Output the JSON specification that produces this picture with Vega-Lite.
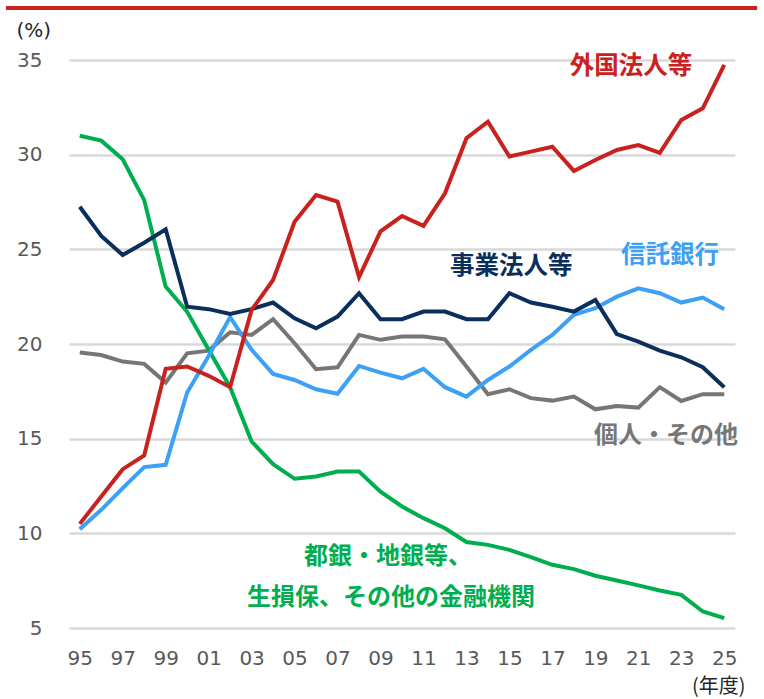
{
  "$schema": "https://vega.github.io/schema/vega-lite/v6.json",
  "width": 666,
  "height": 568,
  "autosize": {"type": "none"},
  "padding": {"left": 69, "top": 60, "right": 29, "bottom": 71},
  "background": "white",
  "config": {"view": {"stroke": null}, "font": "DejaVu Sans"},
  "data": {"values": [
    {"year":1995,"個人・その他":19.55,"金融機関":31.0,"信託銀行":10.22,"事業法人等":27.25,"外国法人等":10.5},
    {"year":1996,"個人・その他":19.42,"金融機関":30.74,"信託銀行":11.24,"事業法人等":25.71,"外国法人等":11.94},
    {"year":1997,"個人・その他":19.07,"金融機関":29.76,"信託銀行":12.39,"事業法人等":24.7,"外国法人等":13.39},
    {"year":1998,"個人・その他":18.95,"金融機関":27.6,"信託銀行":13.5,"事業法人等":25.35,"外国法人等":14.11},
    {"year":1999,"個人・その他":17.96,"金融機関":23.03,"信託銀行":13.62,"事業法人等":26.06,"外国法人等":18.69},
    {"year":2000,"個人・その他":19.51,"金融機関":21.7,"信託銀行":17.44,"事業法人等":21.97,"外国法人等":18.81},
    {"year":2001,"個人・その他":19.65,"金融機関":19.7,"信託銀行":19.37,"事業法人等":21.84,"外国法人等":18.32},
    {"year":2002,"個人・その他":20.62,"金融機関":17.72,"信託銀行":21.42,"事業法人等":21.59,"外国法人等":17.72},
    {"year":2003,"個人・その他":20.48,"金融機関":14.85,"信託銀行":19.69,"事業法人等":21.84,"外国法人等":21.8},
    {"year":2004,"個人・その他":21.31,"金融機関":13.65,"信託銀行":18.42,"事業法人等":22.19,"外国法人等":23.38},
    {"year":2005,"個人・その他":20.04,"金融機関":12.88,"信託銀行":18.1,"事業法人等":21.36,"外国法人等":26.46},
    {"year":2006,"個人・その他":18.67,"金融機関":13.0,"信託銀行":17.61,"事業法人等":20.83,"外国法人等":27.87},
    {"year":2007,"個人・その他":18.77,"金融機関":13.26,"信託銀行":17.37,"事業法人等":21.45,"外国法人等":27.52},
    {"year":2008,"個人・その他":20.48,"金融機関":13.26,"信託銀行":18.84,"事業法人等":22.68,"外国法人等":23.53},
    {"year":2009,"個人・その他":20.22,"金融機関":12.2,"信託銀行":18.49,"事業法人等":21.31,"外国法人等":25.95},
    {"year":2010,"個人・その他":20.39,"金融機関":11.42,"信託銀行":18.19,"事業法人等":21.31,"外国法人等":26.76},
    {"year":2011,"個人・その他":20.39,"金融機関":10.8,"信託銀行":18.69,"事業法人等":21.71,"外国法人等":26.24},
    {"year":2012,"個人・その他":20.25,"金融機関":10.27,"信託銀行":17.72,"事業法人等":21.71,"外国法人等":27.96},
    {"year":2013,"個人・その他":18.81,"金融機関":9.54,"信託銀行":17.22,"事業法人等":21.31,"外国法人等":30.87},
    {"year":2014,"個人・その他":17.35,"金融機関":9.39,"信託銀行":18.1,"事業法人等":21.31,"外国法人等":31.74},
    {"year":2015,"個人・その他":17.61,"金融機関":9.13,"信託銀行":18.81,"事業法人等":22.68,"外国法人等":29.9},
    {"year":2016,"個人・その他":17.14,"金融機関":8.74,"信託銀行":19.69,"事業法人等":22.19,"外国法人等":30.16},
    {"year":2017,"個人・その他":17.01,"金融機関":8.34,"信託銀行":20.48,"事業法人等":21.97,"外国法人等":30.42},
    {"year":2018,"個人・その他":17.22,"金融機関":8.11,"信託銀行":21.54,"事業法人等":21.71,"外国法人等":29.14},
    {"year":2019,"個人・その他":16.55,"金融機関":7.76,"信託銀行":21.89,"事業法人等":22.33,"外国法人等":29.72},
    {"year":2020,"個人・その他":16.73,"金融機関":7.51,"信託銀行":22.5,"事業法人等":20.52,"外国法人等":30.25},
    {"year":2021,"個人・その他":16.64,"金融機関":7.25,"信託銀行":22.94,"事業法人等":20.13,"外国法人等":30.51},
    {"year":2022,"個人・その他":17.72,"金融機関":6.98,"信託銀行":22.68,"事業法人等":19.65,"外国法人等":30.1},
    {"year":2023,"個人・その他":16.99,"金融機関":6.75,"信託銀行":22.19,"事業法人等":19.3,"外国法人等":31.83},
    {"year":2024,"個人・その他":17.35,"金融機関":5.87,"信託銀行":22.45,"事業法人等":18.77,"外国法人等":32.45},
    {"year":2025,"個人・その他":17.35,"金融機関":5.52,"信託銀行":21.84,"事業法人等":17.72,"外国法人等":34.74}
  ]},
  "layer": [
    {
      "transform": [{"fold": ["個人・その他", "金融機関", "信託銀行", "事業法人等", "外国法人等"], "as": ["series", "value"]}],
      "mark": {"type": "line", "strokeWidth": 4},
      "encoding": {
        "x": {"field": "year", "type": "quantitative",
          "scale": {"domain": [1994.5, 2025.5], "nice": false, "zero": false},
          "axis": {"values": [1995,1997,1999,2001,2003,2005,2007,2009,2011,2013,2015,2017,2019,2021,2023,2025],
            "labelExpr": "slice(toString(datum.value), 2)",
            "grid": false, "ticks": false, "domain": false, "labelFlush": false, "labelOverlap": false,
            "labelFontSize": 20, "labelColor": "#595959", "labelPadding": 20,
            "title": "(年度)", "titleX": 676, "titleY": 58, "titleAlign": "right", "titleBaseline": "middle",
            "titleFontSize": 20, "titleFontWeight": "normal", "titleColor": "#262626", "titleFont": "Noto Sans CJK JP"}},
        "y": {"field": "value", "type": "quantitative",
          "scale": {"domain": [5, 35], "nice": false, "zero": false},
          "axis": {"values": [5,10,15,20,25,30,35], "grid": true, "gridColor": "#D9D9D9", "gridWidth": 2.5,
            "ticks": false, "domain": false, "labelFontSize": 20, "labelColor": "#595959", "labelPadding": 27,
            "title": "(%)", "titleAngle": 0, "titleX": -53, "titleY": -30, "titleAlign": "left", "titleBaseline": "middle",
            "titleFontSize": 20, "titleFontWeight": "normal", "titleColor": "#262626"}},
        "color": {"field": "series", "type": "nominal",
          "scale": {"domain": ["個人・その他", "金融機関", "信託銀行", "事業法人等", "外国法人等"],
                    "range": ["#767676", "#00AE4F", "#3DA0F7", "#0B2F5B", "#C9211E"]},
          "legend": null}
      }
    },
    {"data": {"values": [{}]}, "mark": {"type": "text", "font": "Noto Sans CJK JP", "fontWeight": "bold", "fontSize": 24.5, "align": "center", "baseline": "middle", "color": "#C9211E"},
     "encoding": {"x": {"datum": 2020.66}, "y": {"datum": 34.63}, "text": {"value": "外国法人等"}}},
    {"data": {"values": [{}]}, "mark": {"type": "text", "font": "Noto Sans CJK JP", "fontWeight": "bold", "fontSize": 24.5, "align": "center", "baseline": "middle", "color": "#0B2F5B"},
     "encoding": {"x": {"datum": 2015.08}, "y": {"datum": 24.07}, "text": {"value": "事業法人等"}}},
    {"data": {"values": [{}]}, "mark": {"type": "text", "font": "Noto Sans CJK JP", "fontWeight": "bold", "fontSize": 24.5, "align": "center", "baseline": "middle", "color": "#3DA0F7"},
     "encoding": {"x": {"datum": 2022.48}, "y": {"datum": 24.65}, "text": {"value": "信託銀行"}}},
    {"data": {"values": [{}]}, "mark": {"type": "text", "font": "Noto Sans CJK JP", "fontWeight": "bold", "fontSize": 24, "align": "center", "baseline": "middle", "color": "#767676"},
     "encoding": {"x": {"datum": 2022.29}, "y": {"datum": 15.14}, "text": {"value": "個人・その他"}}},
    {"data": {"values": [{}]}, "mark": {"type": "text", "font": "Noto Sans CJK JP", "fontWeight": "bold", "fontSize": 24, "align": "center", "baseline": "middle", "color": "#00AE4F"},
     "encoding": {"x": {"datum": 2009.35}, "y": {"datum": 8.75}, "text": {"value": "都銀・地銀等、"}}},
    {"data": {"values": [{}]}, "mark": {"type": "text", "font": "Noto Sans CJK JP", "fontWeight": "bold", "fontSize": 24, "align": "center", "baseline": "middle", "color": "#00AE4F"},
     "encoding": {"x": {"datum": 2009.49}, "y": {"datum": 6.58}, "text": {"value": "生損保、その他の金融機関"}}},
    {"data": {"values": [{}]}, "mark": {"type": "rule", "color": "#C9211E", "strokeWidth": 4},
     "encoding": {"x": {"datum": 1991.57}, "x2": {"datum": 2026.53}, "y": {"datum": 37.75}}}
  ]
}
